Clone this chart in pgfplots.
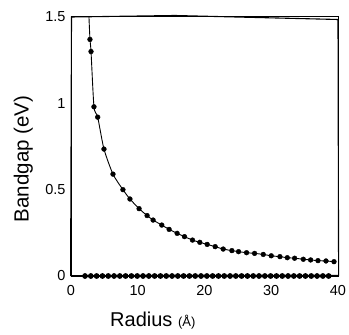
\documentclass[border=0pt]{standalone}
\usepackage{fontspec}
\setmainfont{Liberation Sans}
\usepackage{pgfplots}
\pgfplotsset{compat=1.18}
\begin{document}
\begin{tikzpicture}
\useasboundingbox (0,0) rectangle (349bp,335bp);
\begin{axis}[
  at={(71bp,59bp)}, anchor=south west,
  scale only axis, width=267bp, height=259bp,
  xmin=0, xmax=40, ymin=0, ymax=1.5,
  xtick={0,10,20,30,40}, xticklabels={0,10,20,30,40},
  ytick={0,0.5,1,1.5}, yticklabels={0,0.5,1,1.5},
  major tick length=0pt,
  tick label style={font=\fontsize{14.5bp}{14.5bp}\selectfont},
  xticklabel style={yshift=-6bp},
  yticklabel style={xshift=-2bp},
  axis line style={draw=black, line width=1bp},
  clip=false,
]
% fitted curve
\addplot[black, line width=0.9bp, smooth, tension=0.4, no marks] coordinates {
(2.69,1.5)(2.84,1.37)(3.0,1.30)(3.44,0.98)(4.0,0.92)(4.94,0.735)(6.29,0.59)(7.78,0.50)(8.83,0.446)(10.2,0.39)(11.4,0.35)(12.3,0.324)(13.6,0.295)(14.7,0.270)(15.9,0.247)(17.0,0.228)(18.2,0.208)(19.3,0.195)(20.4,0.183)(21.6,0.170)(22.8,0.156)(24.1,0.147)(25.1,0.141)(26.3,0.135)(27.5,0.131)(28.8,0.125)(30.0,0.117)(31.3,0.112)(32.4,0.106)(33.5,0.103)(34.8,0.097)(35.9,0.093)(37.0,0.089)(38.2,0.087)(39.4,0.083)
};
% data points
\addplot[only marks, mark=*, mark size=2.4bp, black] coordinates {
(2.84,1.37)(3.0,1.30)(3.44,0.98)(4.0,0.92)(4.94,0.735)(6.29,0.59)(7.78,0.50)(8.83,0.446)(10.2,0.39)(11.4,0.35)(12.3,0.324)(13.6,0.295)(14.7,0.270)(15.9,0.247)(17.0,0.228)(18.2,0.208)(19.3,0.195)(20.4,0.183)(21.6,0.170)(22.8,0.156)(24.1,0.147)(25.1,0.141)(26.3,0.135)(27.5,0.131)(28.8,0.125)(30.0,0.117)(31.3,0.112)(32.4,0.106)(33.5,0.103)(34.8,0.097)(35.9,0.093)(37.0,0.089)(38.2,0.087)(39.4,0.083)
};
% zero-gap series
\addplot[black, line width=0.9bp, mark=*, mark size=2.4bp] coordinates {
(2.1,0)(2.97,0)(3.84,0)(4.71,0)(5.58,0)(6.45,0)(7.31,0)(8.18,0)(9.05,0)(9.92,0)(10.79,0)(11.66,0)(12.53,0)(13.4,0)(14.27,0)(15.14,0)(16.0,0)(16.87,0)(17.74,0)(18.61,0)(19.48,0)(20.35,0)(21.22,0)(22.09,0)(22.96,0)(23.83,0)(24.69,0)(25.56,0)(26.43,0)(27.3,0)(28.17,0)(29.04,0)(29.91,0)(30.78,0)(31.65,0)(32.52,0)(33.38,0)(34.25,0)(35.12,0)(35.99,0)(36.86,0)(37.73,0)(38.6,0)
};
\end{axis}
\draw[black, line width=1.1bp, line join=miter] (70.6bp,59.4bp) -- (71.5bp,318bp) -- (175bp,319.5bp) -- (338bp,315.5bp) -- (338.6bp,59.6bp) -- cycle;
\node[rotate=90, anchor=south, inner sep=0pt, font=\fontsize{20.5bp}{20bp}\selectfont] at (33bp,176bp) {Bandgap (eV)};
\node[anchor=north west, inner sep=0pt, font=\fontsize{20bp}{20bp}\selectfont] at (110bp,23bp) {Radius {\fontsize{13bp}{13bp}\selectfont(Å)}};
\end{tikzpicture}
\end{document}
